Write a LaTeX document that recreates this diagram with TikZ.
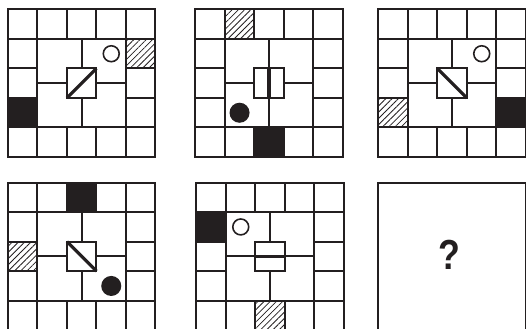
\documentclass[tikz,border=0pt]{standalone}
\usepackage{fontspec}
\setmainfont{Liberation Sans}
\usepackage{tikz}
\usetikzlibrary{patterns.meta}
\definecolor{puzink}{HTML}{231F20}

\begin{document}
\begin{tikzpicture}[x=29.5pt,y=-29.5pt,
  grid/.style={draw=puzink,line width=2pt},
  slash/.style={draw=puzink,line width=3.2pt},
  blackcell/.style={fill=puzink},
  hatchcell/.style={pattern={Lines[angle=45,distance=4.4pt,line width=0.8pt]},pattern color=puzink},
  ring/.style={draw=puzink,line width=1.6pt},
  dot/.style={fill=puzink},
  qmark/.style={font=\fontsize{42}{42}\selectfont\bfseries,text=puzink,xscale=0.85,inner sep=0pt},
  pics/board/.style={code={
    \draw[grid] (0,0) rectangle (5,5) (1,1) rectangle (4,4) (2,2) rectangle (3,3);
    \foreach \i in {1,...,4} {\draw[grid] (\i,0) -- (\i,1) (\i,4) -- (\i,5) (0,\i) -- (1,\i) (4,\i) -- (5,\i);}
    \draw[grid] (2.5,1) -- (2.5,2) (2.5,3) -- (2.5,4) (1,2.5) -- (2,2.5) (3,2.5) -- (4,2.5);
  }}]
\useasboundingbox (0,0) rectangle (17.831,11.153);
% top row
\begin{scope}[shift={(0.271,0.322)}]
  \fill[blackcell] (0,3) rectangle (1,4);
  \fill[hatchcell] (4,1) rectangle (5,2);
  \draw[ring] (3.5,1.5) circle (0.27);
  \pic {board};
  \draw[slash] (2,3) -- (3,2);
\end{scope}
\begin{scope}[shift={(6.62,0.322)}]
  \fill[hatchcell] (1,0) rectangle (2,1);
  \fill[blackcell] (2,4) rectangle (3,5);
  \fill[dot] (1.5,3.5) circle (0.34);
  \pic {board};
  \draw[slash] (2.5,2) -- (2.5,3);
\end{scope}
\begin{scope}[shift={(12.83,0.322)}]
  \fill[hatchcell] (0,3) rectangle (1,4);
  \fill[blackcell] (4,3) rectangle (5,4);
  \draw[ring] (3.5,1.5) circle (0.27);
  \pic {board};
  \draw[slash] (2,2) -- (3,3);
\end{scope}
% bottom row
\begin{scope}[shift={(0.271,6.193)}]
  \fill[blackcell] (2,0) rectangle (3,1);
  \fill[hatchcell] (0,2) rectangle (1,3);
  \fill[dot] (3.5,3.5) circle (0.34);
  \pic {board};
  \draw[slash] (2,2) -- (3,3);
\end{scope}
\begin{scope}[shift={(6.661,6.193)}]
  \fill[blackcell] (0,1) rectangle (1,2);
  \fill[hatchcell] (2,4) rectangle (3,5);
  \draw[ring] (1.5,1.5) circle (0.27);
  \pic {board};
  \draw[slash] (2,2.5) -- (3,2.5);
\end{scope}
\begin{scope}[shift={(12.83,6.193)}]
  \draw[grid] (0,0) rectangle (5,5);
  \node[qmark] (q) at (2.41,2.45) {?};
\end{scope}
\end{tikzpicture}
\end{document}
